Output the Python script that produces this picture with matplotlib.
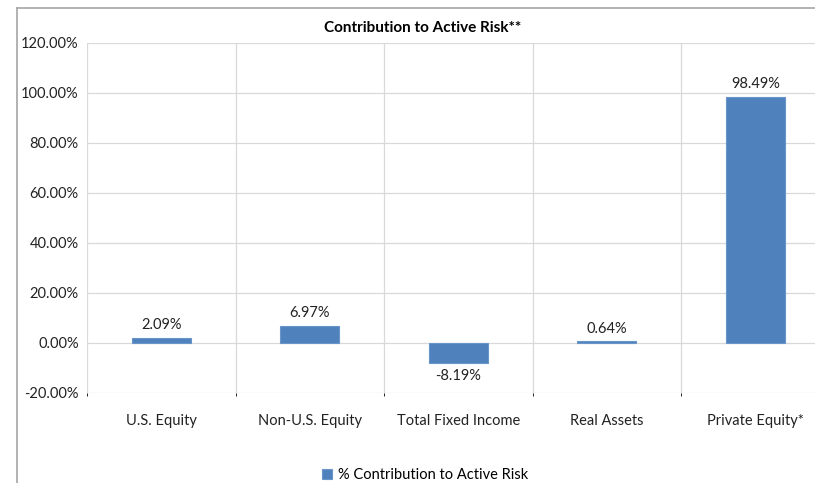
import matplotlib.pyplot as plt
from matplotlib.lines import Line2D

categories = ['U.S. Equity', 'Non-U.S. Equity', 'Total Fixed Income', 'Real Assets', 'Private Equity*']
contribution = [2.09, 6.97, -8.19, 0.64, 98.49]

plt.rcParams['font.family'] = ['Lato', 'DejaVu Sans']

fig = plt.figure(figsize=(8.15, 4.83), dpi=100)
ax = fig.add_axes([87/815, 1 - 393/483, 742.5/815, 350/483])

x = range(len(categories))
bars = ax.bar(x, contribution, width=0.4, color='#4f81bd', edgecolor='#6a95c8', linewidth=0.8,
              label='% Contribution to Active Risk', zorder=3)

for xi, v in zip(x, contribution):
    if v >= 0:
        ax.text(xi, v + 2.2, f'{v:.2f}%', ha='center', va='bottom', fontsize=10.5, color='#222222')
    else:
        ax.text(xi, v - 2.2, f'{v:.2f}%', ha='center', va='top', fontsize=10.5, color='#222222')

ax.set_xlim(-0.5, len(categories) - 0.5)
ax.set_ylim(-20, 120)
ax.set_yticks(range(-20, 121, 20))
ax.set_yticklabels([f'{t:.2f}%' for t in range(-20, 121, 20)], fontsize=10.5, color='#222222')
ax.set_xticks(list(x))
ax.set_xticklabels(categories, fontsize=10.5, color='#222222')
ax.tick_params(axis='both', length=0)
ax.tick_params(axis='x', pad=15)
ax.tick_params(axis='y', pad=6)

# category boundary lines and horizontal gridlines
ax.set_xticks([i - 0.5 for i in range(len(categories) + 1)], minor=True)
ax.grid(axis='y', color='#d9d9d9', linewidth=0.9, zorder=0)
ax.grid(axis='x', which='minor', color='#d9d9d9', linewidth=0.9, zorder=0)
ax.grid(axis='x', which='major', visible=False)
for s in ax.spines.values():
    s.set_visible(False)

ax.set_title('Contribution to Active Risk**', fontsize=11, fontweight='bold', pad=8, x=(423 - 87) / 742.5)

leg = fig.legend(loc='center', bbox_to_anchor=(425/815, 1 - 475/483), frameon=False,
                 fontsize=10.5, handlelength=0.7, handleheight=0.7, handletextpad=0.4,
                 borderpad=0.1)

# outer chart border
fig.add_artist(Line2D([17/815, 1], [1 - 8/483, 1 - 8/483], color='#a6a6a6', linewidth=1.2))
fig.add_artist(Line2D([17/815, 17/815], [0, 1 - 8/483], color='#a6a6a6', linewidth=1.2))

fig.savefig('out.png', dpi=100)
